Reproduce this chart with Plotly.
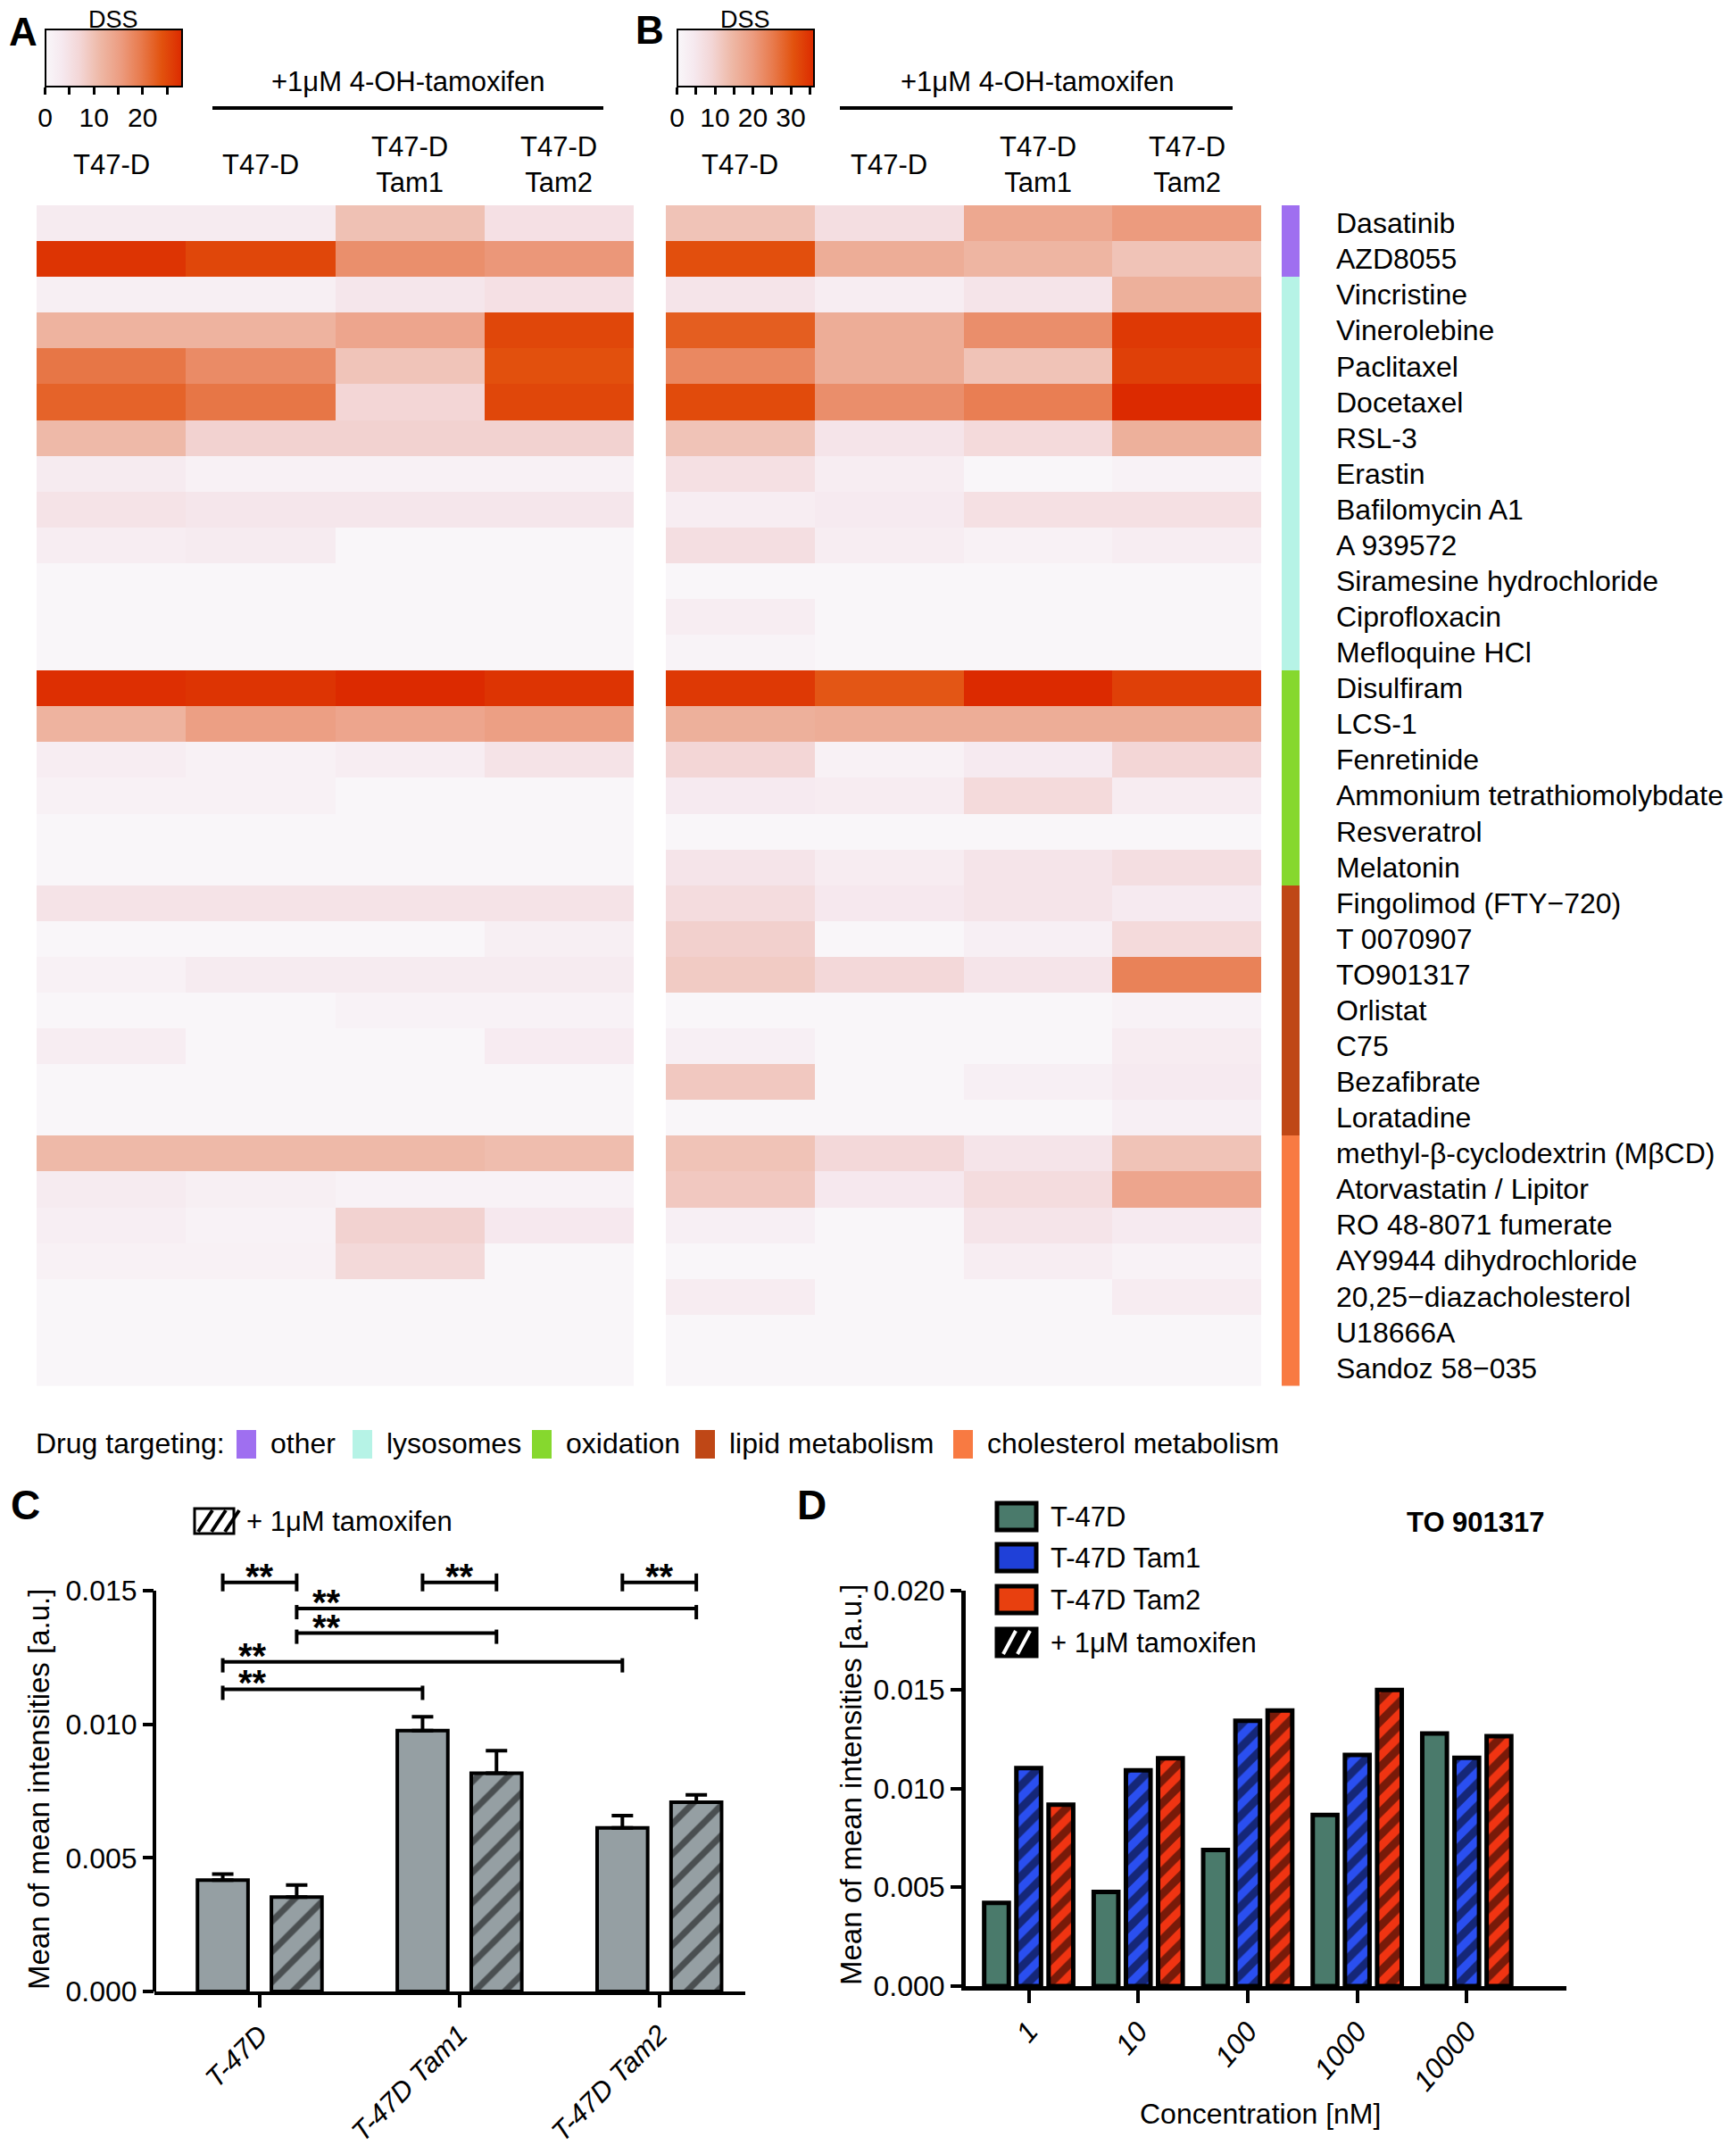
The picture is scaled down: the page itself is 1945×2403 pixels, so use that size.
import plotly.graph_objects as go

FONT = "Liberation Sans, Arial, Helvetica, sans-serif"
W, H = 1945, 2403
OFF = 8  # page body margin compensation

# ---------------- data ----------------
drugs = ["Dasatinib", "AZD8055", "Vincristine", "Vinerolebine", "Paclitaxel", "Docetaxel",
         "RSL-3", "Erastin", "Bafilomycin A1", "A 939572", "Siramesine hydrochloride",
         "Ciprofloxacin", "Mefloquine HCl", "Disulfiram", "LCS-1", "Fenretinide",
         "Ammonium tetrathiomolybdate", "Resveratrol", "Melatonin", "Fingolimod (FTY\u2212720)",
         "T 0070907", "TO901317", "Orlistat", "C75", "Bezafibrate", "Loratadine",
         "methyl-\u03b2-cyclodextrin (M\u03b2CD)", "Atorvastatin / Lipitor", "RO 48-8071 fumerate",
         "AY9944 dihydrochloride", "20,25\u2212diazacholesterol", "U18666A", "Sandoz 58\u2212035"]
drug_category = [0, 0] + [1] * 11 + [2] * 6 + [3] * 7 + [4] * 7
category_names = ["other", "lysosomes", "oxidation", "lipid metabolism", "cholesterol metabolism"]
category_colors = ["#9f6ff0", "#b6f3e6", "#86d82e", "#bf4716", "#f87a42"]
col_labels = ["T47-D", "T47-D", "T47-D<br>Tam1", "T47-D<br>Tam2"]

dss_A = [
    [3, 3, 10, 5], [27, 25, 17, 16], [2, 2, 4, 5], [12, 12, 14, 25], [20, 17.5, 9.5, 24],
    [22, 20, 7, 25], [11, 7.5, 7.5, 7.5], [3, 1.5, 1.5, 1.5], [4.5, 4, 4, 4], [2.5, 3, 0.3, 0.3],
    [0.3, 0.3, 0.3, 0.3], [0.3, 0.3, 0.3, 0.3], [0.3, 0.3, 0.3, 0.3], [27.5, 27, 28, 27],
    [12, 15, 14, 15], [2.5, 1.5, 2.5, 4.5], [1.5, 1.5, 0.3, 0.3], [0.3, 0.3, 0.3, 0.3],
    [0.3, 0.3, 0.3, 0.3], [4.5, 4.5, 4.5, 4.5], [0.3, 0.3, 0.3, 2], [1.5, 3, 3, 3],
    [0.3, 0.3, 1.2, 1.2], [2.5, 0.3, 0.3, 2.8], [0.3, 0.3, 0.3, 0.3], [0.3, 0.3, 0.3, 0.3],
    [11, 11, 11, 10.5], [3, 2, 1.2, 1.2], [2.2, 1.2, 7.5, 3.5], [1.5, 1.5, 6.5, 0.3],
    [0.3, 0.3, 0.3, 0.3], [0.3, 0.3, 0.3, 0.3], [0.3, 0.3, 0.3, 0.3]]
dss_B = [
    [12.5, 7, 17.5, 20], [31, 16.5, 15, 12.5], [5.5, 3, 5.5, 16], [29, 16.5, 22, 34],
    [23, 16.5, 12.5, 33], [31.5, 22, 24.5, 36], [12.5, 5.5, 8, 16], [6.5, 3, 0.3, 1.5],
    [3, 4, 6.5, 6.5], [7, 3, 2, 3], [0.3, 0.3, 0.3, 0.3], [3, 0.3, 0.3, 0.3],
    [1.2, 0.3, 0.3, 0.3], [34, 30, 36, 33], [16, 16.5, 16.5, 16.5], [9, 2, 4, 9],
    [4, 3.5, 8, 3.5], [0.3, 0.3, 0.3, 0.3], [5.5, 3.5, 5.5, 7], [7.5, 4.5, 5.5, 4],
    [10, 0.3, 2.5, 8], [11, 8.5, 5.5, 24], [0.3, 0.3, 0.3, 1.5], [2.5, 0.3, 0.3, 3.5],
    [11.5, 0.3, 2.5, 4], [0.3, 0.3, 0.3, 2.5], [12.5, 8.5, 5.5, 12.5], [11.5, 4.5, 7.5, 18],
    [2.5, 0.3, 5.5, 4], [0.3, 0.3, 3, 1.5], [3.5, 0.3, 0.3, 3.5], [0.3, 0.3, 0.3, 0.3],
    [0.3, 0.3, 0.3, 0.3]]
dss_max_A, dss_max_B = 28, 36

groups_C = ["T-47D", "T-47D Tam1", "T-47D Tam2"]
mean_ctrl = [0.00417, 0.00976, 0.00612]
err_ctrl = [0.00022, 0.00052, 0.00046]
mean_tam = [0.00353, 0.00817, 0.00708]
err_tam = [0.00045, 0.00084, 0.00028]
# significance brackets: (group_a, sub_a, group_b, sub_b, level)
sig_pairs = [(0, 0, 0, 1, 0.01531), (1, 0, 1, 1, 0.01531), (2, 0, 2, 1, 0.01531),
             (0, 1, 2, 1, 0.01433), (0, 1, 1, 1, 0.01341), (0, 0, 2, 0, 0.01234),
             (0, 0, 1, 0, 0.01131)]

conc = ["1", "10", "100", "1000", "10000"]
d_t47d = [0.00421, 0.00476, 0.00689, 0.00866, 0.01278]
d_tam1 = [0.01103, 0.01091, 0.01342, 0.01169, 0.01155]
d_tam2 = [0.00918, 0.01152, 0.01394, 0.01498, 0.01264]

# ---------------- helpers ----------------
def px(x):
    return (x - OFF) / W

def py(y):
    return 1 - (y - OFF) / H

heat_scale = [[0, "#f9f7fa"], [0.12, "#f6e9ef"], [0.25, "#f3d6d6"], [0.4, "#eeb8a6"],
              [0.55, "#ec9c80"], [0.7, "#e87a4c"], [0.85, "#e2520e"], [1, "#dc2a00"]]

rows = list(range(len(drugs)))
cols = list(range(4))

fig = go.Figure()

def cbar(xc, zmax, step_labels):
    tv = list(range(0, int(zmax), 5))
    tt = [str(v) if v in step_labels else "" for v in tv]
    return dict(orientation="h", x=px(xc), xanchor="center", y=py(33), yanchor="top",
                lenmode="pixels", len=153, thicknessmode="pixels", thickness=64,
                outlinewidth=2, outlinecolor="black", ticks="outside", ticklen=8,
                tickwidth=3, tickcolor="black", tickvals=tv, ticktext=tt,
                tickfont=dict(family=FONT, size=30, color="black"),
                xpad=0, ypad=0)

fig.add_trace(go.Heatmap(z=dss_A, x=cols, y=rows, zmin=0, zmax=dss_max_A, colorscale=heat_scale,
                         colorbar=cbar(127, dss_max_A, [0, 10, 20]), xaxis="x", yaxis="y",
                         hovertemplate="%{z}<extra></extra>"))
fig.add_trace(go.Heatmap(z=dss_B, x=cols, y=rows, zmin=0, zmax=dss_max_B, colorscale=heat_scale,
                         colorbar=cbar(835, dss_max_B, [0, 10, 20, 30]), xaxis="x2", yaxis="y2",
                         hovertemplate="%{z}<extra></extra>"))
ncat = len(category_colors)
cat_scale = []
for i, c in enumerate(category_colors):
    cat_scale.append([i / ncat, c])
    cat_scale.append([(i + 1) / ncat, c])
fig.add_trace(go.Heatmap(z=[[c] for c in drug_category], x=[0], y=rows, zmin=0, zmax=ncat - 1,
                         colorscale=cat_scale, showscale=False, xaxis="x3", yaxis="y3",
                         hoverinfo="skip"))

# ---- panel C bars ----
bw_c, off_c = 0.253, 0.185
grey = "#959fa3"
fig.add_trace(go.Bar(x=groups_C, y=mean_ctrl, width=bw_c, offset=-off_c - bw_c / 2,
                     marker=dict(color=grey, line=dict(color="black", width=4)),
                     error_y=dict(type="data", symmetric=False, array=err_ctrl,
                                  arrayminus=[0] * 3, color="black", thickness=4, width=12),
                     xaxis="x4", yaxis="y4", showlegend=False))
fig.add_trace(go.Bar(x=groups_C, y=mean_tam, width=bw_c, offset=off_c - bw_c / 2,
                     marker=dict(color=grey, line=dict(color="black", width=4),
                                 pattern=dict(shape="/", fgcolor="black", fillmode="overlay",
                                              size=24, solidity=0.3)),
                     error_y=dict(type="data", symmetric=False, array=err_tam,
                                  arrayminus=[0] * 3, color="black", thickness=4, width=12),
                     xaxis="x4", yaxis="y4", showlegend=False))

# ---- panel D bars ----
bw_d, off_d = 0.225, 0.294
series_D = [(d_t47d, "#4a7a6b", -off_d, None), (d_tam1, "#2a4ff0", 0, "/"), (d_tam2, "#f03412", off_d, "/")]
for vals, col, o, pat in series_D:
    mk = dict(color=col, line=dict(color="black", width=5))
    if pat:
        mk["pattern"] = dict(shape=pat, fgcolor="black", fillmode="overlay", size=18, solidity=0.5)
    fig.add_trace(go.Bar(x=conc, y=vals, width=bw_d, offset=o - bw_d / 2, marker=mk,
                         xaxis="x5", yaxis="y5", showlegend=False))

# ---------------- axes ----------------
hm_y = [py(1552.5), py(230)]
blank = dict(showgrid=False, zeroline=False, showticklabels=False, ticks="", showline=False)
layout = dict(
    width=W, height=H, margin=dict(l=0, r=0, t=0, b=0, autoexpand=False),
    paper_bgcolor="white", plot_bgcolor="white",
    font=dict(family=FONT, size=30, color="black"),
    xaxis=dict(domain=[px(41), px(710)], range=[-0.5, 3.5], anchor="y", **blank),
    yaxis=dict(domain=hm_y, range=[32.5, -0.5], anchor="x", **blank),
    xaxis2=dict(domain=[px(746), px(1413)], range=[-0.5, 3.5], anchor="y2", **blank),
    yaxis2=dict(domain=hm_y, range=[32.5, -0.5], anchor="x2", **blank),
    xaxis3=dict(domain=[px(1436), px(1456)], range=[-0.5, 0.5], anchor="y3", **blank),
    yaxis3=dict(domain=hm_y, range=[32.5, -0.5], anchor="x3", side="right", showgrid=False,
                zeroline=False, ticks="", showline=False, tickmode="array", tickvals=rows,
                ticktext=drugs, ticklabelstandoff=40,
                tickfont=dict(family=FONT, size=32, color="black")),
)
# panel C axes
c_y0, c_y015 = 2231, 1782
c_top_val = 0.0175
c_top_px = c_y0 - c_top_val / 0.015 * (c_y0 - c_y015)
layout["xaxis4"] = dict(domain=[px(173), px(835)], anchor="y4", type="category",
                        range=[-0.527, 2.43], showline=True, linecolor="black", linewidth=4,
                        ticks="outside", ticklen=14, tickwidth=4, tickcolor="black",
                        tickmode="array", tickvals=groups_C,
                        ticktext=["<i>" + g + "</i>" for g in groups_C], tickangle=-45,
                        tickfont=dict(family=FONT, size=31), showgrid=False, zeroline=False)
layout["yaxis4"] = dict(domain=[py(c_y0), py(c_top_px)], anchor="x4", range=[0, c_top_val],
                        showline=False, ticks="outside", ticklen=12, tickwidth=4,
                        tickcolor="black", tickvals=[0, 0.005, 0.01, 0.015], tickformat=".3f",
                        tickfont=dict(family=FONT, size=32), showgrid=False, zeroline=False)
# panel D axes
layout["xaxis5"] = dict(domain=[px(1082), px(1755)], anchor="y5", type="category",
                        range=[-0.575, 4.91], showline=True, linecolor="black", linewidth=5,
                        ticks="outside", ticklen=14, tickwidth=4, tickcolor="black",
                        tickmode="array", tickvals=conc,
                        ticktext=["<i>" + c + "</i>" for c in conc], tickangle=-50,
                        tickfont=dict(family=FONT, size=32), showgrid=False, zeroline=False)
layout["yaxis5"] = dict(domain=[py(2225), py(1782)], anchor="x5", range=[0, 0.020],
                        showline=True, linecolor="black", linewidth=5, ticks="outside",
                        ticklen=12, tickwidth=4, tickcolor="black",
                        tickvals=[0, 0.005, 0.01, 0.015, 0.02], tickformat=".3f",
                        tickfont=dict(family=FONT, size=32), showgrid=False, zeroline=False)
fig.update_layout(**layout)

shapes = []
ann = []

def text(x, y, s, size=30, xanchor="center", yanchor="middle", bold=False, **kw):
    if bold:
        s = "<b>" + s + "</b>"
    ann.append(dict(x=px(x), y=py(y), xref="paper", yref="paper", text=s, showarrow=False,
                    xanchor=xanchor, yanchor=yanchor,
                    font=dict(family=FONT, size=size, color="black"), **kw))

def pline(x0, y0, x1, y1, w=4, color="black"):
    shapes.append(dict(type="line", xref="paper", yref="paper", x0=px(x0), y0=py(y0),
                       x1=px(x1), y1=py(y1), line=dict(color=color, width=w)))

def prect(x0, y0, x1, y1, fill, lw=0, lc="black"):
    shapes.append(dict(type="rect", xref="paper", yref="paper", x0=px(x0), y0=py(y0),
                       x1=px(x1), y1=py(y1), fillcolor=fill, line=dict(color=lc, width=lw)))

# panel letters
text(8, 36, "A", size=44, bold=True, xanchor="left")
text(728, 34, "B", size=44, bold=True)
text(28, 1686, "C", size=46, bold=True)
text(909, 1686, "D", size=46, bold=True)

# colorbar titles
text(127, 22, "DSS", size=27)
text(835, 22, "DSS", size=27)

# heatmap headers
for xa in ["x", "x2"]:
    for i, lab in enumerate(col_labels):
        ann.append(dict(x=i, y=py(185), xref=xa, yref="paper", text=lab, showarrow=False,
                        xanchor="center", yanchor="middle",
                        font=dict(family=FONT, size=31, color="black")))
text(457, 92, "+1\u03bcM 4-OH-tamoxifen", size=31)
pline(238, 121, 676, 121, w=4)
text(1162, 92, "+1\u03bcM 4-OH-tamoxifen", size=31)
pline(941, 121, 1381, 121, w=4)

# drug targeting legend
text(38, 1617, "Drug targeting:", size=32, xanchor="left")
leg_sw = [265, 395, 596, 779, 1068]
for sx, name, col in zip(leg_sw, category_names, category_colors):
    prect(sx, 1602, sx + 22, 1634, col)
    text(sx + 36, 1617, name, size=32, xanchor="left")

# panel C: y axis line, legend, brackets
shapes.append(dict(type="line", xref="x4 domain", yref="y4", x0=0, x1=0, y0=0, y1=0.015,
                   line=dict(color="black", width=4)))
prect(218, 1690, 262, 1718, "white", lw=3)
for k in range(3):
    pline(222 + 15 * k, 1716, 238 + 15 * k, 1692, w=4)
text(274, 1704, "+ 1\u03bcM tamoxifen", size=31, xanchor="left")
unit = 0.015 / (c_y0 - c_y015)
for ga, sa, gb, sb, lvl in sig_pairs:
    xa = ga + (off_c if sa else -off_c)
    xb = gb + (off_c if sb else -off_c)
    short = (ga == gb)
    up, dn = (10 * unit, 10 * unit) if short else (4 * unit, 12 * unit)
    shapes.append(dict(type="line", xref="x4", yref="y4", x0=xa, x1=xb, y0=lvl, y1=lvl,
                       line=dict(color="black", width=4)))
    for xe in (xa, xb):
        shapes.append(dict(type="line", xref="x4", yref="y4", x0=xe, x1=xe, y0=lvl - dn,
                           y1=lvl + up, line=dict(color="black", width=4)))
    xs = (xa + xb) / 2 if short else xa + 0.15
    ann.append(dict(x=xs, y=lvl, xref="x4", yref="y4", text="<b>**</b>", showarrow=False,
                    xanchor="center", yanchor="bottom", yshift=-17,
                    font=dict(family=FONT, size=40, color="black")))
text(43, 2005, "Mean of mean intensities [a.u.]", size=33, textangle=-90)

# panel D legend, title, axis titles
leg_D = [("T-47D", "#4a7a6b", 1699), ("T-47D Tam1", "#1f40d8", 1745),
         ("T-47D Tam2", "#e8400f", 1792), ("+ 1\u03bcM tamoxifen", "black", 1840)]
for name, col, yc in leg_D:
    prect(1117, yc - 15, 1161, yc + 15, col, lw=5)
    text(1175, yc, name, size=31, xanchor="left")
for k in range(2):
    pline(1124 + 16 * k, 1853, 1138 + 16 * k, 1827, w=4, color="white")
text(1653, 1705, "TO 901317", size=31, bold=True)
text(1412, 2368, "Concentration [nM]", size=32)
text(953, 2000, "Mean of mean intensities [a.u.]", size=33, textangle=-90)

fig.update_layout(shapes=shapes, annotations=ann)
fig.write_html("out.html")
